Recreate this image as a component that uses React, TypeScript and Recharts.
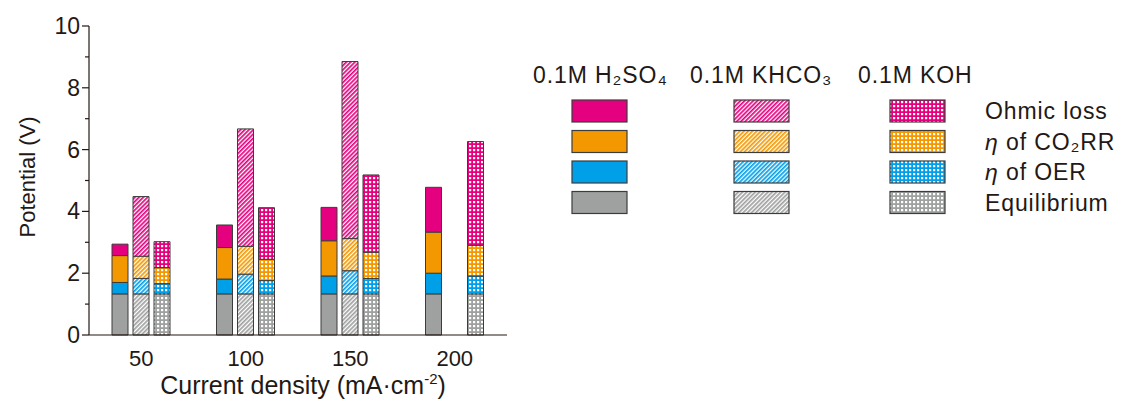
import React from "react";
import { Bar, BarChart, XAxis, YAxis } from "recharts";

// current density categories (mA cm-2)
const categories = ["50", "100", "150", "200"];

// potential contributions (V)
const h2so4Eq = [1.33, 1.33, 1.33, 1.33];
const h2so4Oer = [0.37, 0.48, 0.58, 0.67];
const h2so4Co2 = [0.87, 1.02, 1.14, 1.33];
const h2so4Ohm = [0.37, 0.73, 1.08, 1.45];

const khco3Eq = [1.33, 1.33, 1.33, null];
const khco3Oer = [0.5, 0.64, 0.75, null];
const khco3Co2 = [0.72, 0.9, 1.04, null];
const khco3Ohm = [1.93, 3.8, 5.73, null];

const kohEq = [1.33, 1.33, 1.33, 1.33];
const kohOer = [0.33, 0.43, 0.5, 0.58];
const kohCo2 = [0.52, 0.69, 0.85, 0.99];
const kohOhm = [0.84, 1.67, 2.5, 3.36];

const yTicks = [0, 1, 2, 3, 4, 5, 6, 7, 8, 9, 10];

const electrolytes = ["0.1M H₂SO₄", "0.1M KHCO₃", "0.1M KOH"];

const FONT = '"Liberation Sans", Arial, sans-serif';
const INK = "#231815";
const EDGE = "#3c3c3c";

const colors = {
  ohm: "#E4007F",
  co2: "#F39800",
  oer: "#00A0E9",
  eq: "#9FA0A0",
};

// legend rows, top to bottom
const layers = [
  { key: "ohm", label: "Ohmic loss" },
  { key: "co2", label: "CO₂RR", eta: true },
  { key: "oer", label: "OER", eta: true },
  { key: "eq", label: "Equilibrium" },
] as const;

const data = categories.map((cat, i) => ({
  cat,
  hEq: h2so4Eq[i],
  hOer: h2so4Oer[i],
  hCo2: h2so4Co2[i],
  hOhm: h2so4Ohm[i],
  cEq: khco3Eq[i],
  cOer: khco3Oer[i],
  cCo2: khco3Co2[i],
  cOhm: khco3Ohm[i],
  kEq: kohEq[i],
  kOer: kohOer[i],
  kCo2: kohCo2[i],
  kOhm: kohOhm[i],
}));

const fillFor = (style: "solid" | "hatch" | "grid", key: string) =>
  style === "solid" ? (colors as any)[key] : `url(#${style}-${key})`;

const YTick = ({ x, y, payload }: any) => {
  const major = payload.value % 2 === 0;
  return (
    <g>
      <line x1={x - (major ? 7 : 4)} x2={x} y1={y} y2={y} stroke={INK} strokeWidth={1.2} />
      {major && (
        <text
          x={x - 9}
          y={y}
          textAnchor="end"
          dominantBaseline="central"
          fontSize={23}
          fontFamily={FONT}
          fill={INK}
        >
          {payload.value}
        </text>
      )}
    </g>
  );
};

const Patterns = () => (
  <defs>
    {Object.entries(colors).map(([k, c]) => (
      <React.Fragment key={k}>
        <pattern
          id={`hatch-${k}`}
          width={3}
          height={3}
          patternUnits="userSpaceOnUse"
          patternTransform="rotate(45)"
        >
          <rect width={3} height={3} fill="#fff" />
          <line x1={0.85} y1={0} x2={0.85} y2={3} stroke={c} strokeWidth={1.7} />
        </pattern>
        <pattern id={`grid-${k}`} width={4} height={4} patternUnits="userSpaceOnUse">
          <rect width={4} height={4} fill={c} />
          <rect x={1} y={1} width={2.2} height={2.2} fill="#fff" />
        </pattern>
      </React.Fragment>
    ))}
  </defs>
);

const swatchX = [572, 734, 890];
const styles: Array<"solid" | "hatch" | "grid"> = ["solid", "hatch", "grid"];
const headerX = [533, 690, 858];

export default function App() {
  const bars = [
    { p: "h", style: "solid" as const },
    { p: "c", style: "hatch" as const },
    { p: "k", style: "grid" as const },
  ];
  const parts = [
    { s: "Eq", key: "eq" },
    { s: "Oer", key: "oer" },
    { s: "Co2", key: "co2" },
    { s: "Ohm", key: "ohm" },
  ];

  return (
    <div style={{ position: "absolute", left: 0, top: 0, width: 1123, height: 401, background: "#fff" }}>
      <BarChart
        width={520}
        height={401}
        data={data}
        margin={{ top: 26, right: 13, left: 0, bottom: 36 }}
        barSize={16}
        barGap={5}
      >
        <XAxis
          dataKey="cat"
          axisLine={{ stroke: INK, strokeWidth: 1.2 }}
          tickLine={false}
          tickSize={0}
          tickMargin={15}
          height={30}
          tick={{ fontSize: 22, fontFamily: FONT, fill: INK }}
        />
        <XAxis
          xAxisId="top"
          dataKey="cat"
          orientation="top"
          height={0}
          tick={false}
          tickLine={false}
          axisLine={{ stroke: INK, strokeWidth: 1.2 }}
        />
        <YAxis
          domain={[0, 10]}
          ticks={yTicks}
          interval={0}
          width={89}
          tickSize={0}
          tickMargin={0}
          tickLine={false}
          axisLine={{ stroke: INK, strokeWidth: 1.2 }}
          tick={<YTick />}
        />
        <YAxis
          yAxisId="right"
          orientation="right"
          domain={[0, 10]}
          width={0}
          tick={false}
          tickLine={false}
          axisLine={{ stroke: INK, strokeWidth: 1.2 }}
        />
        {bars.map((b) =>
          parts.map((pt) => (
            <Bar
              key={b.p + pt.s}
              dataKey={b.p + pt.s}
              stackId={b.p}
              fill={fillFor(b.style, pt.key)}
              stroke={EDGE}
              strokeWidth={1}
              isAnimationActive={false}
            />
          ))
        )}
      </BarChart>

      <svg
        width={1123}
        height={401}
        style={{ position: "absolute", left: 0, top: 0, pointerEvents: "none" }}
        fontFamily={FONT}
        fill={INK}
      >
        <Patterns />
        <text
          transform="translate(27,177) rotate(-90)"
          textAnchor="middle"
          dominantBaseline="central"
          fontSize={22}
        >
          Potential (V)
        </text>
        <text x={303} y={394} textAnchor="middle" fontSize={25}>
          Current density (mA·cm
          <tspan dy={-10} fontSize={15}>-2</tspan>
          <tspan dy={10}>)</tspan>
        </text>

        {electrolytes.map((e, i) => (
          <text key={e} x={headerX[i]} y={83} fontSize={23} letterSpacing={0.9}>
            {e}
          </text>
        ))}

        {layers.map((l, r) => {
          const y = 100 + r * 30.5;
          return (
            <g key={l.key}>
              {styles.map((s, c) => (
                <rect
                  key={s}
                  x={swatchX[c]}
                  y={y}
                  width={55}
                  height={22}
                  fill={fillFor(s, l.key)}
                  stroke={EDGE}
                  strokeWidth={1.2}
                />
              ))}
              <text
                x={985}
                y={y + 11}
                dominantBaseline="central"
                fontSize={23}
                letterSpacing={0.9}
              >
                {"eta" in l && l.eta ? (
                  <>
                    <tspan fontStyle="italic">η</tspan> of {l.label}
                  </>
                ) : (
                  l.label
                )}
              </text>
            </g>
          );
        })}
      </svg>
    </div>
  );
}
